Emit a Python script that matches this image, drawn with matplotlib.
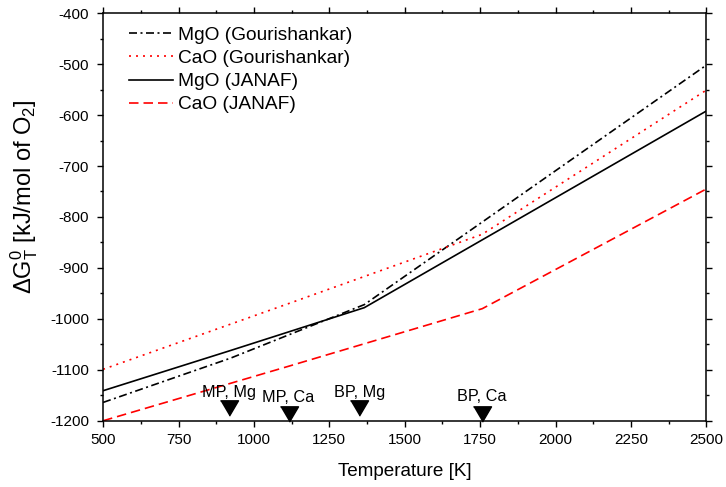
import numpy as np
import matplotlib
matplotlib.use('Agg')
import matplotlib.pyplot as plt
from matplotlib.ticker import MultipleLocator

plt.rcParams['font.family'] = ['Liberation Sans', 'DejaVu Sans']
plt.rcParams['mathtext.default'] = 'regular'
plt.rcParams['axes.unicode_minus'] = False

# 数据
T_mgo_g = [500, 923, 1366, 2500]
G_mgo_g = [-1164, -1077, -972, -502]

T_cao_g = [500, 1115, 1757, 2500]
G_cao_g = [-1099, -970, -834, -551]

T_mgo_j = [500, 923, 1366, 2500]
G_mgo_j = [-1141, -1062, -978, -592]

T_cao_j = [500, 1115, 1757, 2500]
G_cao_j = [-1200, -1093, -980, -745]

# 相变点标记
trans_T = [917, 1115, 1350, 1755]
trans_G = [-1175, -1186, -1175, -1186]
trans_label = ['MP, Mg', 'MP, Ca', 'BP, Mg', 'BP, Ca']
label_G = [-1145, -1155, -1145, -1152]

fig = plt.figure(figsize=(7.26, 4.87), dpi=100)
ax = fig.add_axes([0.142, 0.136, 0.831, 0.837])

lw = 1.2
ax.plot(T_mgo_g, G_mgo_g, color='black', lw=lw, dashes=(4.8, 2.1, 1.2, 2.1),
        label='MgO (Gourishankar)')
ax.plot(T_cao_g, G_cao_g, color='red', lw=lw, dashes=(1.2, 3.0),
        label='CaO (Gourishankar)')
ax.plot(T_mgo_j, G_mgo_j, color='black', lw=lw, label='MgO (JANAF)')
ax.plot(T_cao_j, G_cao_j, color='red', lw=lw, dashes=(5.7, 3.0),
        label='CaO (JANAF)')

# 倒三角标记
tri = [(-1, 0.85), (1, 0.85), (0, -0.85)]
ax.plot(trans_T, trans_G, linestyle='none', marker=tri, markersize=13,
        color='black', clip_on=False)
for t, g, s in zip(trans_T, label_G, trans_label):
    ax.text(t, g, s, ha='center', va='center', fontsize=11.7)

ax.set_xlim(500, 2500)
ax.set_ylim(-1200, -400)
ax.xaxis.set_major_locator(MultipleLocator(250))
ax.xaxis.set_minor_locator(MultipleLocator(125))
ax.yaxis.set_major_locator(MultipleLocator(100))
ax.yaxis.set_minor_locator(MultipleLocator(50))
ax.tick_params(which='both', direction='out', top=True, right=True, width=1)
ax.tick_params(which='major', length=4, labelsize=11)
ax.tick_params(which='minor', length=2.5)
ax.tick_params(axis='x', pad=5)
ax.tick_params(axis='y', pad=6)
for sp in ax.spines.values():
    sp.set_linewidth(1.1)

ax.set_xlabel('Temperature [K]', fontsize=13.6, labelpad=11)
ax.set_ylabel(r'$\Delta G_T^0$ [kJ/mol of O$_2$]', fontsize=17)
ax.yaxis.set_label_coords(-0.105, 0.55)

ax.legend(loc='upper left', frameon=False, fontsize=13.8, handlelength=2.3,
          handletextpad=0.3, labelspacing=0.3, borderaxespad=0.3,
          bbox_to_anchor=(0.02, 1.0))

fig.savefig('out.png', dpi=100)
